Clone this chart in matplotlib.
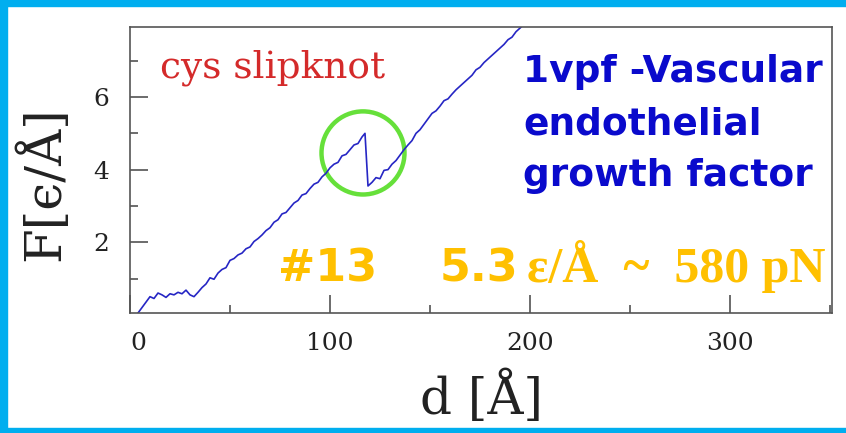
import matplotlib.pyplot as plt
from matplotlib.patches import Ellipse, Rectangle
from matplotlib.ticker import MultipleLocator

# Кривая силы F(d) для 1vpf
d = [4, 6, 8, 10, 12, 14, 16, 18, 20, 22, 24, 26, 28, 30, 32, 34, 36, 38,
     40, 42, 44, 46, 48, 50, 52, 54, 56, 58, 60, 62, 64, 66, 68, 70, 72, 74,
     76, 78, 80, 82, 84, 86, 88, 90, 92, 94, 96, 98, 100, 102, 104, 106, 108,
     110, 112, 114, 116, 117.5, 119, 121, 123, 125, 127, 129, 131, 133, 135,
     137, 139, 141, 143, 145, 147, 149, 151, 153, 155, 157, 159, 161, 163,
     165, 167, 169, 171, 173, 175, 177, 179, 181, 183, 185, 187, 189, 191,
     193, 195, 197]
F = [0.05, 0.2, 0.35, 0.5, 0.45, 0.6, 0.55, 0.48, 0.58, 0.55, 0.62, 0.58,
     0.68, 0.55, 0.5, 0.62, 0.75, 0.85, 1.02, 0.98, 1.15, 1.25, 1.3, 1.5,
     1.55, 1.65, 1.7, 1.82, 1.87, 2.02, 2.1, 2.2, 2.32, 2.4, 2.55, 2.62,
     2.78, 2.82, 2.95, 3.08, 3.15, 3.3, 3.34, 3.48, 3.6, 3.65, 3.8, 3.9,
     4.05, 4.15, 4.2, 4.38, 4.42, 4.55, 4.68, 4.72, 4.9, 5.0, 3.55, 3.65,
     3.78, 3.75, 3.98, 4.0, 4.15, 4.25, 4.4, 4.55, 4.68, 4.8, 5.0, 5.1,
     5.25, 5.4, 5.55, 5.62, 5.75, 5.9, 5.95, 6.08, 6.2, 6.3, 6.4, 6.5, 6.6,
     6.75, 6.82, 6.95, 7.05, 7.15, 7.25, 7.35, 7.45, 7.58, 7.65, 7.8, 7.9,
     8.0]
xticks = [0, 100, 200, 300]
yticks = [2, 4, 6]

W, H = 846, 433
fig = plt.figure(figsize=(W / 100, H / 100), dpi=100)
fx = lambda px: px / W
fy = lambda py: 1 - py / H

# голубая рамка слайда
border = '#00aeef'
fig.patches.append(Rectangle((0, 0), 7 / W, 1, transform=fig.transFigure, color=border))
fig.patches.append(Rectangle((0, fy(6)), 1, 6 / H, transform=fig.transFigure, color=border))
fig.patches.append(Rectangle((0, 0), 1, 5 / H, transform=fig.transFigure, color=border))

ax = fig.add_axes([fx(130), fy(313), fx(832) - fx(130), fy(27) - fy(313)])
ax.plot(d, F, color='#2626c4', lw=1.2)
ax.set_xlim(0, 351)
ax.set_ylim(0.05, 7.93)

ax.add_patch(Ellipse((116.5, 4.46), 41.5, 2.29, fill=False, edgecolor='#66e03a', lw=3.2))

ax.set_xticks(xticks)
ax.set_yticks(yticks)
ax.xaxis.set_minor_locator(MultipleLocator(50))
ax.yaxis.set_minor_locator(MultipleLocator(1))
ax.tick_params(which='both', direction='in', top=False, right=False, color='#444444', width=1.1)
ax.tick_params(which='major', length=13, labelsize=18, labelcolor='#222222')
ax.tick_params(axis='x', which='major', pad=14)
ax.tick_params(axis='y', which='major', pad=15)
ax.tick_params(which='minor', length=6)
for lab in ax.get_xticklabels() + ax.get_yticklabels():
    lab.set_family('DejaVu Serif')
ax.xaxis.get_major_ticks()[0].label1.set_horizontalalignment('left')
for s in ax.spines.values():
    s.set_color('#555555')
    s.set_linewidth(1.2)

fig.text(fx(44), fy(184), 'F[ϵ/Å]', rotation=90, ha='center', va='center',
         family='DejaVu Serif', fontsize=36, color='#222222')
fig.text(fx(481), fy(398), 'd [Å]', ha='center', va='center',
         family='DejaVu Serif', fontsize=36, color='#222222')

fig.text(fx(160), fy(78), 'cys slipknot', color='#d42a2a', family='DejaVu Serif',
         fontsize=27, va='baseline')

blue = '#0a0acc'
for txt, base in [('1vpf -Vascular', 82), ('endothelial', 134), ('growth factor', 186)]:
    fig.text(fx(523), fy(base), txt, color=blue, family='DejaVu Sans', weight='bold',
             fontsize=27, va='baseline')

orange = '#ffc000'
fig.text(fx(278), fy(282), '#13', color=orange, family='DejaVu Sans', weight='bold',
         fontsize=32, va='baseline')
fig.text(fx(440), fy(282), '5.3', color=orange, family='DejaVu Sans', weight='bold',
         fontsize=32, va='baseline')
fig.text(fx(527), fy(282), 'ε/Å  ~  580 pN', color=orange, family='Liberation Serif',
         weight='bold', fontsize=36, va='baseline')

fig.savefig('out.png', dpi=100)
